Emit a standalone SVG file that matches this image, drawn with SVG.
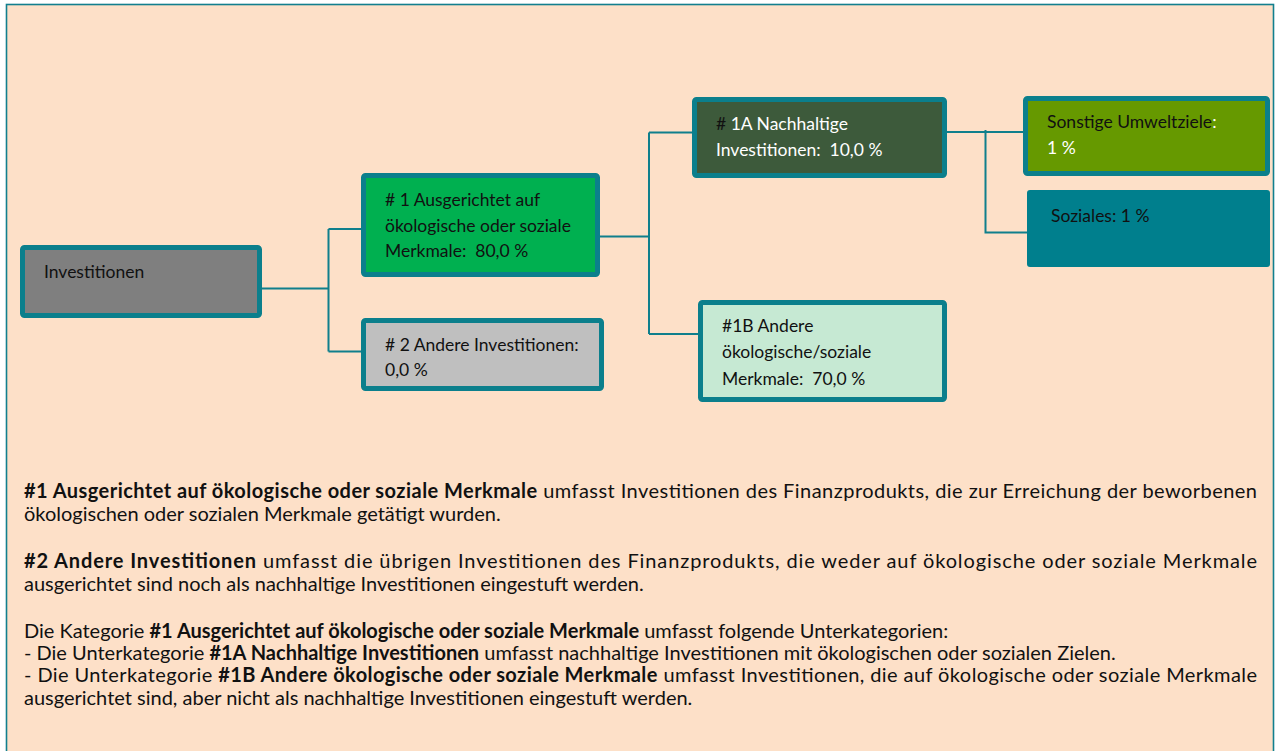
<svg xmlns="http://www.w3.org/2000/svg" width="1275" height="751" viewBox="0 0 1275 751">
<style>
.box{stroke:#0B7F8C;stroke-width:5}
.t{font-family:Lato,"Liberation Sans",sans-serif;font-size:17.5px;fill:#111;white-space:pre}
.w{fill:#fff}
.p{font-family:Lato,"Liberation Sans",sans-serif;font-size:20px;fill:#111}
.b{font-weight:bold}
.c{fill:none;stroke:#0F7F8C;stroke-width:2}
</style>
<rect x="6.5" y="4.5" width="1267" height="760" fill="#FDE0C8" stroke="#127F8E" stroke-width="1.6"/>
<g id="connectors">
<path class="c" d="M262 288.5H328.5M328.5 229V351.5M328.5 229H362M328.5 351.5H362"/>
<path class="c" d="M600 236.5H649M649 132.5V334M649 132.5H693M649 334H699"/>
<path class="c" d="M946 132H1024M985.5 130V232.5H1028"/>
</g>
<g id="n-investitionen">
<rect class="box" x="22.5" y="247.5" width="237" height="68" rx="2" fill="#7F7F7F"/>
<text class="t" x="44" y="278">Investitionen</text>
</g>
<g id="n-1">
<rect class="box" x="363.5" y="175.5" width="234" height="99" rx="2" fill="#00B050"/>
<text class="t"><tspan x="385" y="206"># 1 Ausgerichtet auf</tspan><tspan x="385" y="232">ökologische oder soziale</tspan><tspan x="385" y="257">Merkmale:  80,0 %</tspan></text>
</g>
<g id="n-2">
<rect class="box" x="363.5" y="320.5" width="238" height="68" rx="2" fill="#BFBFBF"/>
<text class="t"><tspan x="385" y="351"># 2 Andere Investitionen:</tspan><tspan x="385" y="376">0,0 %</tspan></text>
</g>
<g id="n-1a">
<rect class="box" x="694.5" y="99.5" width="250" height="76" rx="2" fill="#3D5A3B"/>
<text class="t"><tspan x="716" y="130">#</tspan><tspan class="w"> 1A Nachhaltige</tspan><tspan class="w" x="716" y="156">Investitionen:  10,0 %</tspan></text>
</g>
<g id="n-1b">
<rect class="box" x="700.5" y="302.5" width="244" height="97" rx="2" fill="#C6E9D3"/>
<text class="t"><tspan x="722" y="332">#1B Andere</tspan><tspan x="722" y="358">ökologische/soziale</tspan><tspan x="722" y="385">Merkmale:  70,0 %</tspan></text>
</g>
<g id="n-umwelt">
<rect class="box" x="1025.5" y="98.5" width="242" height="75" rx="2" fill="#669900"/>
<text class="t"><tspan x="1047" y="128">Sonstige Umweltziele</tspan><tspan class="w">:</tspan><tspan class="w" x="1047" y="154">1 %</tspan></text>
</g>
<g id="n-soziales">
<rect x="1027" y="190" width="243" height="77" rx="3" fill="#007F8D"/>
<text class="t" x="1051" y="222">Soziales: 1 %</text>
</g>
<g id="legend">
<text class="p" x="24" y="498" textLength="1233" lengthAdjust="spacing"><tspan class="b">#1 Ausgerichtet auf ökologische oder soziale Merkmale</tspan> umfasst Investitionen des Finanzprodukts, die zur Erreichung der beworbenen</text>
<text class="p" x="24" y="521">ökologischen oder sozialen Merkmale getätigt wurden.</text>
<text class="p" x="24" y="568" textLength="1233" lengthAdjust="spacing"><tspan class="b">#2 Andere Investitionen</tspan> umfasst die übrigen Investitionen des Finanzprodukts, die weder auf ökologische oder soziale Merkmale</text>
<text class="p" x="24" y="591">ausgerichtet sind noch als nachhaltige Investitionen eingestuft werden.</text>
<text class="p" x="24" y="638">Die Kategorie <tspan class="b">#1 Ausgerichtet auf ökologische oder soziale Merkmale</tspan> umfasst folgende Unterkategorien:</text>
<text class="p" x="24" y="660">- Die Unterkategorie <tspan class="b">#1A Nachhaltige Investitionen</tspan> umfasst nachhaltige Investitionen mit ökologischen oder sozialen Zielen.</text>
<text class="p" x="24" y="682" textLength="1233" lengthAdjust="spacing">- Die Unterkategorie <tspan class="b">#1B Andere ökologische oder soziale Merkmale</tspan> umfasst Investitionen, die auf ökologische oder soziale Merkmale</text>
<text class="p" x="24" y="705">ausgerichtet sind, aber nicht als nachhaltige Investitionen eingestuft werden.</text>
</g>
</svg>
